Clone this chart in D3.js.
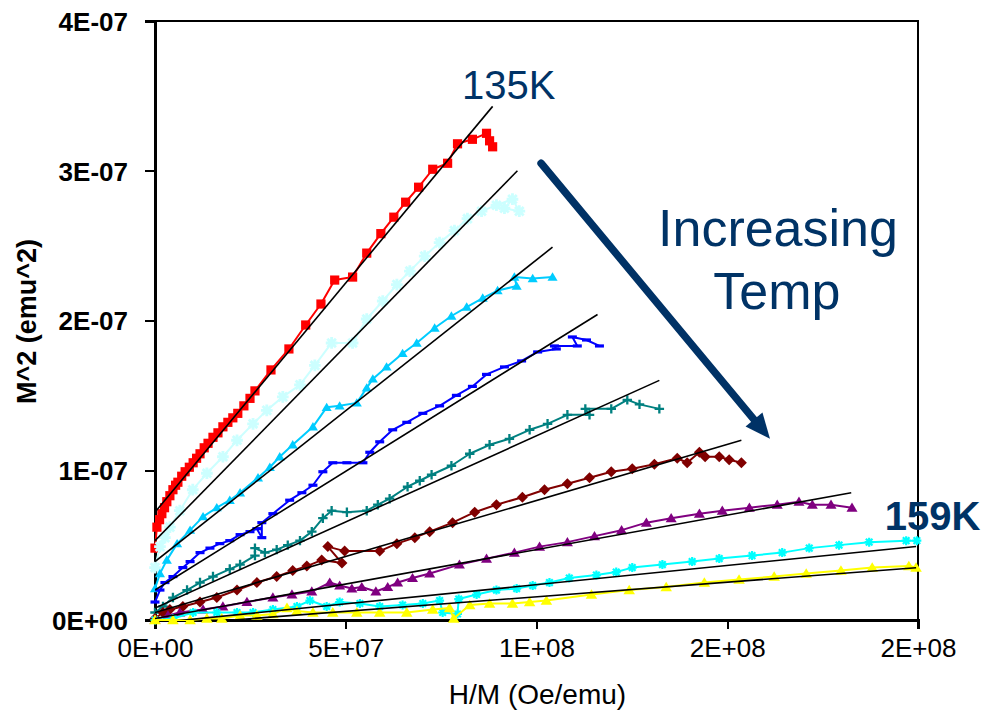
<!DOCTYPE html>
<html>
<head>
<meta charset="utf-8">
<script src="https://cdn.jsdelivr.net/npm/d3@7"></script>
<style>
  body { margin: 0; background: #fff; }
  svg { display: block; font-family: "Liberation Sans", Arial, sans-serif; }
</style>
</head>
<body>
<svg id="chart" width="984" height="715"></svg>
<script>
// Arrott plot (M^2 vs H/M) for isotherms between 135 K and 159 K.
// x values are in units of 1e7 Oe/emu, y values in units of 1e-7 emu^2.

const temps = ["135K", "138K", "141K", "144K", "147K", "150K", "153K", "156K", "159K"];

const xTicks = [0, 5, 10, 15, 20];
const xTickLabels = ["0E+00", "5E+07", "1E+08", "2E+08", "2E+08"];
const yTicks = [0, 1, 2, 3, 4];
const yTickLabels = ["0E+00", "1E-07", "2E-07", "3E-07", "4E-07"];

const m135 = [[0.00,0.48],[0.05,0.62],[0.12,0.67],[0.18,0.71],[0.25,0.75],[0.31,0.79],[0.39,0.83],[0.47,0.87],[0.54,0.90],[0.60,0.92],[0.70,0.96],[0.79,0.99],[0.90,1.02],[1.00,1.05],[1.09,1.08],[1.18,1.11],[1.29,1.15],[1.39,1.18],[1.52,1.22],[1.65,1.25],[1.78,1.29],[1.91,1.32],[2.04,1.35],[2.17,1.38],[2.33,1.43],[2.49,1.48],[2.62,1.53],[3.04,1.67],[3.51,1.81],[3.95,1.97],[4.35,2.11],[4.71,2.27],[5.18,2.29],[5.55,2.45],[5.92,2.58],[6.26,2.69],[6.57,2.79],[6.91,2.89],[7.28,3.01],[7.67,3.05],[7.93,3.18],[8.32,3.21],[8.69,3.25],[8.77,3.20],[8.85,3.16]];

const m138 = [[0.00,0.35],[0.13,0.49],[0.26,0.55],[0.39,0.62],[0.65,0.73],[0.99,0.87],[1.36,0.98],[1.78,1.09],[2.15,1.20],[2.57,1.31],[2.93,1.40],[3.35,1.49],[3.80,1.57],[4.19,1.70],[4.63,1.85],[5.18,1.85],[5.55,2.01],[5.97,2.13],[6.34,2.24],[6.68,2.33],[7.07,2.43],[7.46,2.52],[7.85,2.60],[8.19,2.68],[8.56,2.73],[8.95,2.77],[9.37,2.81],[9.55,2.73],[9.16,2.75]];

const m141 = [[0.00,0.21],[0.13,0.31],[0.31,0.40],[0.58,0.51],[0.92,0.60],[1.26,0.69],[1.62,0.75],[1.96,0.80],[2.23,0.85],[2.70,0.95],[3.01,1.02],[3.27,1.09],[3.61,1.17],[4.14,1.29],[4.50,1.42],[4.84,1.43],[5.29,1.45],[5.55,1.55],[5.71,1.61],[6.07,1.69],[6.49,1.78],[6.86,1.85],[7.33,1.95],[7.77,2.03],[8.17,2.09],[8.59,2.15],[8.98,2.20],[9.48,2.23],[9.42,2.29],[9.90,2.28],[10.42,2.29]];

const m144 = [[0.00,0.12],[0.13,0.20],[0.26,0.25],[0.47,0.29],[0.73,0.35],[0.92,0.39],[1.18,0.45],[1.44,0.48],[1.70,0.51],[1.96,0.53],[2.23,0.57],[2.49,0.59],[2.67,0.61],[2.80,0.55],[2.80,0.65],[3.09,0.71],[3.53,0.80],[3.85,0.85],[4.14,0.90],[4.40,0.99],[4.66,1.05],[5.03,1.05],[5.45,1.05],[5.63,1.12],[5.89,1.19],[6.23,1.27],[6.60,1.32],[7.02,1.38],[7.46,1.43],[7.90,1.50],[8.32,1.56],[8.69,1.64],[9.16,1.69],[9.61,1.73],[10.03,1.79],[10.52,1.81],[10.47,1.83],[11.07,1.83],[10.94,1.89],[11.31,1.87],[11.65,1.83]];

const m147 = [[0.00,0.05],[0.21,0.09],[0.47,0.15],[0.84,0.20],[1.18,0.25],[1.52,0.29],[1.96,0.34],[2.23,0.37],[2.62,0.43],[2.62,0.48],[2.88,0.45],[3.19,0.47],[3.48,0.50],[3.80,0.53],[4.11,0.59],[4.40,0.68],[4.63,0.73],[5.03,0.72],[5.55,0.73],[5.84,0.77],[6.15,0.81],[6.62,0.89],[6.94,0.93],[7.25,0.97],[7.77,1.03],[8.25,1.11],[8.77,1.17],[9.29,1.21],[9.82,1.27],[10.29,1.31],[10.81,1.37],[11.39,1.37],[11.28,1.41],[11.96,1.41],[12.38,1.47],[12.70,1.44],[13.22,1.41]];

const m150 = [[0.00,0.01],[0.21,0.05],[0.39,0.07],[0.73,0.09],[1.18,0.12],[1.62,0.15],[2.15,0.20],[2.67,0.25],[3.19,0.29],[3.61,0.33],[3.98,0.36],[4.37,0.40],[4.90,0.38],[4.53,0.49],[4.97,0.46],[5.89,0.46],[6.34,0.51],[6.81,0.55],[7.20,0.59],[7.80,0.65],[8.38,0.72],[8.95,0.77],[9.63,0.82],[10.21,0.87],[10.81,0.91],[11.39,0.95],[11.96,0.99],[12.51,1.01],[13.09,1.04],[13.69,1.08],[13.95,1.05],[14.27,1.12],[14.42,1.09],[14.79,1.09],[15.05,1.07],[15.37,1.05]];

const m153 = [[0.00,0.00],[0.34,0.03],[0.65,0.05],[1.26,0.07],[1.78,0.09],[2.41,0.12],[3.09,0.15],[3.59,0.17],[4.11,0.19],[4.58,0.25],[4.84,0.23],[5.16,0.21],[5.42,0.22],[5.79,0.19],[6.10,0.22],[6.36,0.25],[6.75,0.28],[7.20,0.31],[7.98,0.37],[8.69,0.41],[9.42,0.45],[10.08,0.49],[10.81,0.52],[11.52,0.56],[12.23,0.60],[12.88,0.65],[13.53,0.68],[14.27,0.71],[14.87,0.73],[15.58,0.75],[16.31,0.77],[16.88,0.79],[17.23,0.77],[17.72,0.77],[18.27,0.75]];

const m156 = [[0.00,0.00],[0.47,0.01],[1.00,0.05],[1.62,0.05],[2.15,0.05],[2.57,0.05],[3.09,0.07],[3.72,0.09],[4.06,0.13],[4.50,0.09],[4.84,0.12],[5.37,0.11],[5.89,0.09],[6.49,0.10],[7.02,0.11],[7.46,0.13],[7.54,0.05],[7.93,0.04],[7.96,0.14],[8.43,0.17],[8.95,0.20],[9.48,0.21],[9.90,0.23],[10.34,0.25],[10.86,0.28],[11.57,0.30],[12.09,0.32],[12.51,0.35],[13.30,0.37],[14.08,0.39],[14.79,0.41],[15.65,0.43],[16.44,0.45],[17.15,0.48],[17.93,0.50],[18.72,0.52],[19.69,0.53],[19.97,0.53]];

const m159 = [[0.00,0.00],[0.47,0.00],[0.92,0.00],[1.36,0.01],[1.75,0.01],[2.23,0.03],[2.67,0.03],[3.09,0.04],[3.46,0.08],[3.72,0.06],[4.14,0.05],[4.66,0.05],[5.29,0.05],[5.89,0.05],[6.60,0.05],[7.28,0.07],[7.72,0.08],[7.83,0.01],[8.25,0.10],[8.77,0.11],[9.37,0.11],[9.82,0.12],[10.26,0.13],[11.44,0.17],[12.43,0.20],[13.40,0.22],[14.40,0.25],[15.31,0.27],[16.23,0.29],[17.07,0.31],[17.98,0.33],[18.80,0.35],[19.76,0.36],[19.95,0.35]];

// linear fits: y = intercept + slope * x, drawn from x = 0 to the end value
const fitIntercept = [0.72, 0.53, 0.39, 0.20, 0.08, 0.05, 0.01, -0.02, -0.04];
const fitSlope     = [0.3062, 0.2600, 0.2015, 0.1586, 0.1150, 0.0748, 0.0460, 0.0256, 0.0195];
const fitEndX      = [8.85, 9.50, 10.42, 11.60, 13.22, 15.37, 18.25, 19.95, 19.95];

const seriesData = [m135, m138, m141, m144, m147, m150, m153, m156, m159];

// drawing styles per isotherm
const seriesColor  = ["#ff0000", "#ccffff", "#00ccff", "#0000ff", "#008080", "#800000", "#800080", "#00ffff", "#ffff00"];
const seriesMarker = ["square", "asterisk", "triangle", "dash", "plus", "diamond", "triangle", "asterisk", "triangle"];
const seriesMarkerScale = [1.15, 1.3, 1.05, 1.0, 1.05, 1.1, 1.15, 1.0, 1.2];

// annotation anchors (data coordinates)
const arrowFrom = [10.12, 3.05];
const arrowTo   = [16.12, 1.21];
const lowLabelPos  = [8.05, 3.48];
const highLabelPos = [19.13, 0.60];
const noteLines = ["Increasing", "Temp"];
const notePos   = [[16.33, 2.50], [16.30, 2.08]];

const navy = "#003366";

const svg = d3.select("#chart");
const plot = { left: 155, right: 918, top: 21, bottom: 620 };

const x = d3.scaleLinear().domain([0, 20]).range([plot.left, plot.right]);
const y = d3.scaleLinear().domain([0, 4]).range([plot.bottom, plot.top]);

const defs = svg.append("defs");
defs.append("clipPath").attr("id", "plotClip")
  .append("rect")
  .attr("x", plot.left).attr("y", plot.top)
  .attr("width", plot.right - plot.left).attr("height", plot.bottom - plot.top);
defs.append("filter").attr("id", "soft")
  .append("feGaussianBlur").attr("stdDeviation", 0.7);

// plot-area frame
svg.append("rect")
  .attr("x", plot.left).attr("y", plot.top)
  .attr("width", plot.right - plot.left).attr("height", plot.bottom - plot.top)
  .attr("fill", "none").attr("stroke", "#000").attr("stroke-width", 2)
  .attr("shape-rendering", "crispEdges");

// axes
const xAxis = d3.axisBottom(x).tickValues(xTicks)
  .tickFormat((d, i) => xTickLabels[i]).tickSize(9).tickPadding(10);
const yAxis = d3.axisLeft(y).tickValues(yTicks)
  .tickFormat((d, i) => yTickLabels[i]).tickSize(10).tickPadding(17);

const gx = svg.append("g").attr("transform", `translate(0,${plot.bottom})`).call(xAxis);
const gy = svg.append("g").attr("transform", `translate(${plot.left},0)`).call(yAxis);

[gx, gy].forEach(g => {
  g.select(".domain").attr("stroke", "#000").attr("stroke-width", 2.2);
  g.selectAll(".tick line").attr("stroke", "#000").attr("stroke-width", 2.2);
  g.selectAll("path, line").attr("shape-rendering", "crispEdges");
});
gx.selectAll(".tick text")
  .attr("font-family", "Liberation Sans, Arial, sans-serif")
  .attr("font-size", 26).attr("fill", "#000");
gy.selectAll(".tick text")
  .attr("font-family", "Liberation Sans, Arial, sans-serif")
  .attr("font-size", 26).attr("font-weight", "bold").attr("fill", "#000")
  .attr("dy", "0.36em");

// axis titles
svg.append("text")
  .attr("x", (plot.left + plot.right) / 2 + 1).attr("y", 704)
  .attr("text-anchor", "middle").attr("font-size", 28)
  .text("H/M (Oe/emu)");
svg.append("text")
  .attr("transform", `translate(36,${(plot.top + plot.bottom) / 2 + 1}) rotate(-90)`)
  .attr("text-anchor", "middle").attr("font-size", 27).attr("font-weight", "bold")
  .text("M^2 (emu^2)");

// marker shapes
function markerPath(type) {
  switch (type) {
    case "square":   return "M-4,-4h8v8h-8z";
    case "triangle": return "M0,-4.5L4.8,3.5L-4.8,3.5Z";
    case "diamond":  return "M0,-5L5,0L0,5L-5,0Z";
    case "dash":     return "M-4.5,-1.6h9v3.2h-9z";
    case "plus":     return "M-4.5,0h9M0,-4.5v9";
    case "asterisk": return "M-4.5,0h9M0,-4.5v9M-3.3,-3.3l6.6,6.6M-3.3,3.3l6.6,-6.6";
  }
  return "";
}
const stroked = t => t === "plus" || t === "asterisk";

const line = d3.line().x(d => x(d[0])).y(d => y(d[1]));

const gData = svg.append("g");
seriesData.forEach((pts, i) => {
  const g = gData.append("g").attr("class", "series").attr("data-temp", temps[i]);
  const mk = seriesMarker[i], s = seriesMarkerScale[i];
  g.append("path")
    .attr("d", line(pts))
    .attr("fill", "none").attr("stroke", seriesColor[i]).attr("stroke-width", 2)
    .attr("stroke-linejoin", "round");
  g.selectAll("path.marker").data(pts).join("path")
    .attr("class", "marker")
    .attr("transform", d => `translate(${x(d[0])},${y(d[1])}) scale(${s})`)
    .attr("d", markerPath(mk))
    .attr("fill", stroked(mk) ? "none" : seriesColor[i])
    .attr("stroke", stroked(mk) ? seriesColor[i] : "none")
    .attr("stroke-width", stroked(mk) ? 2.2 : 0);
});

// linear fit lines
const gFit = svg.append("g").attr("clip-path", "url(#plotClip)");
temps.forEach((t, i) => {
  const ends = [[0, fitIntercept[i]], [fitEndX[i], fitIntercept[i] + fitSlope[i] * fitEndX[i]]];
  gFit.append("path")
    .attr("d", line(ends))
    .attr("fill", "none").attr("stroke", "#000").attr("stroke-width", 1.6);
});

// temperature labels
svg.append("text")
  .attr("x", x(lowLabelPos[0])).attr("y", y(lowLabelPos[1]))
  .attr("font-size", 40).attr("fill", navy).text(temps[0]);
svg.append("text")
  .attr("x", x(highLabelPos[0])).attr("y", y(highLabelPos[1]))
  .attr("font-size", 40).attr("font-weight", "bold").attr("fill", navy)
  .text(temps[temps.length - 1]);

// "Increasing Temp" note
noteLines.forEach((s, i) => {
  svg.append("text")
    .attr("x", x(notePos[i][0])).attr("y", y(notePos[i][1]))
    .attr("text-anchor", "middle").attr("font-size", 52).attr("fill", navy)
    .text(s);
});

// arrow
const ax0 = x(arrowFrom[0]), ay0 = y(arrowFrom[1]);
const ax1 = x(arrowTo[0]),   ay1 = y(arrowTo[1]);
const len = Math.hypot(ax1 - ax0, ay1 - ay0);
const ux = (ax1 - ax0) / len, uy = (ay1 - ay0) / len;
const headLen = 25, headHalf = 11;
const bx = ax1 - ux * headLen, by = ay1 - uy * headLen;

const gArrow = svg.append("g").attr("filter", "url(#soft)");
gArrow.append("line")
  .attr("x1", ax0).attr("y1", ay0).attr("x2", bx + ux * 4).attr("y2", by + uy * 4)
  .attr("stroke", navy).attr("stroke-width", 7.5).attr("stroke-linecap", "round");
gArrow.append("path")
  .attr("d", `M${ax1},${ay1}L${bx - uy * headHalf},${by + ux * headHalf}L${bx + uy * headHalf},${by - ux * headHalf}Z`)
  .attr("fill", navy);
</script>
</body>
</html>
